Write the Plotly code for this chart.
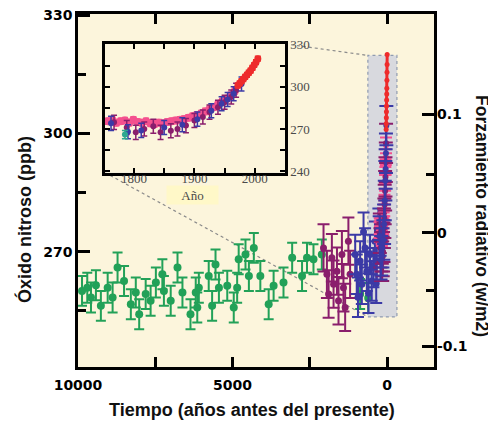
import plotly.graph_objects as go

# ---------------- data ----------------
# Main panel: years before present (BP) vs N2O (ppb)
green_bp = [9870, 9700, 9580, 9420, 9260, 9040, 8880, 8720, 8510, 8290, 8130, 8020,
            7810, 7650, 7480, 7270, 7220, 7000, 6780, 6620, 6360, 6190, 6140, 6090,
            5770, 5660, 5550, 5440, 5170, 4960, 4850, 4800, 4580, 4470, 4310, 4100,
            3830, 3670, 3350, 3070, 2750, 2590, 2380, 2110, 870, 610]
green_ppb = [260.1, 260.9, 258.4, 261.5, 256.3, 260.9, 258.4, 266.0, 262.6, 256.7, 259.7, 254.2,
             259.3, 257.6, 262.2, 264.3, 260.1, 257.6, 266.0, 259.7, 254.2, 259.7, 255.9, 260.9,
             263.9, 256.3, 266.8, 260.9, 261.4, 255.9, 260.9, 268.1, 269.3, 263.9, 271.0, 263.9,
             256.7, 261.4, 262.2, 268.5, 263.9, 268.5, 268.1, 269.3, 259.3, 258.3]
green_err = 3.8

purple_bp = [2055, 1945, 1890, 1785, 1730, 1620, 1570, 1460, 1410, 1355, 1250, 1195]
purple_ppb = [271.0, 264.3, 259.3, 268.5, 261.8, 265.1, 257.6, 269.3, 260.9, 255.9, 272.7, 264.3]
purple_err = 6.0

blue_bp = [1030, 980, 940, 870, 815, 760, 710, 655, 600, 550, 495, 440, 390, 350, 330, 280]
blue_ppb = [269.3, 264.3, 258.5, 267.7, 261.8, 275.0, 271.0, 265.1, 259.5, 269.3, 262.6, 266.0,
            272.7, 262.0, 267.7, 276.0]
blue_err = 5.0

# Inset panel: calendar year vs N2O (ppb)
ins_pink_year = [1757, 1764, 1771, 1778, 1785, 1792, 1799, 1806, 1813, 1820, 1827, 1834, 1841,
                 1848, 1855, 1862, 1869, 1876, 1883, 1890, 1897, 1904, 1911, 1918, 1925, 1932,
                 1939, 1946, 1953, 1960, 1967]
ins_pink_ppb = [275.5, 276.5, 274.5, 275.5, 276.0, 274.5, 276.5, 275.0, 274.5, 275.5, 274.0, 273.5,
                274.5, 274.0, 275.0, 275.5, 276.0, 276.5, 277.0, 278.0, 279.0, 280.0, 281.0, 282.5,
                284.0, 285.5, 287.5, 289.5, 291.5, 294.0, 297.0]
ins_pink_err = 2.0

ins_purple_year = [1767, 1788, 1803, 1817, 1832, 1844, 1861, 1872, 1886, 1900, 1914, 1925, 1939,
                   1950, 1961, 1969]
ins_purple_ppb = [274.7, 271.0, 267.6, 270.0, 272.0, 267.6, 268.8, 270.0, 272.4, 276.0, 278.5,
                  282.0, 285.5, 289.0, 292.7, 297.5]
ins_purple_err = 5.0

ins_blue_year = [1762, 1790, 1812, 1850, 1880, 1905, 1928, 1945, 1955, 1965, 1978]
ins_blue_ppb = [274.0, 268.0, 269.0, 271.0, 273.0, 277.0, 283.0, 288.0, 291.0, 295.0, 302.0]
ins_blue_err = 5.0

ins_teal_year = [1785]
ins_teal_ppb = [266.0]
ins_teal_err = 3.0

ins_red_year = [1972, 1975, 1978, 1981, 1984, 1987, 1990, 1993, 1996, 1999, 2002, 2005]
ins_red_ppb = [301.0, 302.5, 304.0, 305.5, 307.0, 308.5, 310.0, 311.5, 313.5, 315.5, 317.5, 320.0]
ins_red_err = 1.5

present_year = 2000  # year that defines "before present" in the main panel

# Axis ticks / labels
x_ticks = [10000, 5000, 0]
x_minor = [7500, 2500]
y_ticks = [330, 300, 270]
y_minor = [315, 285, 255]
forcing_tick_ppb = [304.8, 274.8, 246.1]
forcing_labels = ["0.1", "0", "-0.1"]
forcing_minor_ppb = [289.7, 260.2]
inset_x_ticks = [1800, 1900, 2000]
inset_x_minor = [1850, 1950]
inset_y_ticks = [240, 270, 300, 330]
inset_y_minor = [255, 285, 315]

# highlighted zoom window in the main panel (BP, ppb)
zoom_bp = [620, -320]
zoom_ppb = [253.5, 319.8]

# ---------------- styling ----------------
C_GREEN = "#22a158"
C_PURPLE = "#8a1e6c"
C_BLUE = "#3b3aa6"
C_PINK = "#f4508e"
C_RED = "#ee2b2b"
C_TEAL = "#2fa890"

x_range = [10000, -1520]
y_range = [240.8, 330.3]
ins_x_range = [1752, 2050]
ins_y_range = [239, 330.5]
ins_dom_x = [0.0758, 0.5815]
ins_dom_y = [0.5508, 0.9153]

# the page body adds an 8 px offset; the figure is sized so that the plot
# area lands at x 78..434, y 14..367 of the 496x425 window
PAGE_OFF = 8
PLOT_L, PLOT_R, PLOT_T, PLOT_B = 78, 434, 14, 367
FIG_W, FIG_H = 496 - PAGE_OFF, 425 - PAGE_OFF

fig = go.Figure()


def err_trace(x, y, err, color, size, xa, ya, capw, thick=2.0):
    fig.add_trace(go.Scatter(
        x=x, y=y, mode="markers", xaxis=xa, yaxis=ya,
        marker=dict(color=color, size=size, line=dict(width=0)),
        error_y=dict(type="constant", value=err, color=color, thickness=thick, width=capw),
        showlegend=False, hoverinfo="skip"))


def to_bp(years):
    return [present_year - yv for yv in years]


# main panel
err_trace(green_bp, green_ppb, green_err, C_GREEN, 8, "x", "y", 5)
err_trace(purple_bp, purple_ppb, purple_err, C_PURPLE, 7, "x", "y", 6)
err_trace(blue_bp, blue_ppb, blue_err, C_BLUE, 7, "x", "y", 6)
err_trace(to_bp(ins_pink_year), ins_pink_ppb, ins_pink_err, C_PINK, 6, "x", "y", 6)
err_trace(to_bp(ins_purple_year), ins_purple_ppb, ins_purple_err, C_PURPLE, 6, "x", "y", 7)
err_trace(to_bp(ins_blue_year), ins_blue_ppb, ins_blue_err, C_BLUE, 6, "x", "y", 7)
fig.add_trace(go.Scatter(x=to_bp(ins_red_year), y=ins_red_ppb, mode="lines+markers",
                         line=dict(color=C_RED, width=3), marker=dict(color=C_RED, size=5),
                         xaxis="x", yaxis="y", showlegend=False, hoverinfo="skip"))

# dummy trace for the forcing axis
fig.add_trace(go.Scatter(x=[None], y=[None], xaxis="x", yaxis="y2", showlegend=False,
                         hoverinfo="skip"))

# inset panel
err_trace(ins_pink_year, ins_pink_ppb, ins_pink_err, C_PINK, 8, "x3", "y3", 3)
err_trace(ins_purple_year, ins_purple_ppb, ins_purple_err, C_PURPLE, 6, "x3", "y3", 3, 1.5)
err_trace(ins_blue_year, ins_blue_ppb, ins_blue_err, C_BLUE, 6, "x3", "y3", 3, 1.5)
err_trace(ins_teal_year, ins_teal_ppb, ins_teal_err, C_TEAL, 6, "x3", "y3", 3, 1.5)
err_trace(ins_red_year, ins_red_ppb, ins_red_err, C_RED, 7, "x3", "y3", 3)

tick_font = dict(family="DejaVu Sans", size=14, color="black", weight="bold")
serif_font = dict(family="Liberation Serif", size=13, color="#4a4a4a")

fig.update_layout(
    width=FIG_W, height=FIG_H,
    margin=dict(l=PLOT_L - PAGE_OFF, r=496 - PLOT_R, t=PLOT_T - PAGE_OFF, b=425 - PLOT_B,
                autoexpand=False),
    paper_bgcolor="white",
    plot_bgcolor="#fcf5dc",
    showlegend=False,
    xaxis=dict(range=x_range, tickvals=x_ticks, ticktext=[str(v) for v in x_ticks],
               ticks="inside", ticklen=10, tickwidth=2.5, tickcolor="black",
               minor=dict(tickvals=x_minor, ticks="inside", ticklen=10, tickwidth=2.5,
                          tickcolor="black"),
               showline=True, linecolor="black", linewidth=2.5, mirror="ticks",
               showgrid=False, zeroline=False, tickfont=tick_font, ticklabelstandoff=3,
               ticklabeloverflow="allow"),
    yaxis=dict(range=y_range, tickvals=y_ticks, ticktext=[str(v) for v in y_ticks],
               ticks="inside", ticklen=12, tickwidth=2.5, tickcolor="black",
               minor=dict(tickvals=y_minor, ticks="inside", ticklen=8, tickwidth=2.5,
                          tickcolor="black"),
               showline=True, linecolor="black", linewidth=2.5, mirror=True,
               showgrid=False, zeroline=False, tickfont=tick_font, ticklabelstandoff=0,
               ticklabeloverflow="allow"),
    yaxis2=dict(range=y_range, overlaying="y", side="right", anchor="x",
                tickvals=forcing_tick_ppb, ticktext=forcing_labels,
                ticks="inside", ticklen=12, tickwidth=2.5, tickcolor="black",
                minor=dict(tickvals=forcing_minor_ppb, ticks="inside", ticklen=8,
                           tickwidth=2.5, tickcolor="black"),
                showline=False, showgrid=False, zeroline=False, tickfont=tick_font,
                ticklabelstandoff=2, ticklabeloverflow="allow"),
    xaxis3=dict(domain=ins_dom_x, anchor="y3", range=ins_x_range, tickvals=inset_x_ticks,
                ticktext=[str(v) for v in inset_x_ticks],
                ticks="inside", ticklen=5, tickwidth=2, tickcolor="black",
                minor=dict(tickvals=inset_x_minor, ticks="inside", ticklen=5, tickwidth=2,
                           tickcolor="black"),
                showline=True, linecolor="black", linewidth=2.5, mirror="ticks",
                showgrid=False, zeroline=False, tickfont=serif_font, ticklabelstandoff=-8,
                ticklabeloverflow="allow"),
    yaxis3=dict(domain=ins_dom_y, anchor="x3", range=ins_y_range, side="right",
                tickvals=inset_y_ticks, ticktext=[str(v) for v in inset_y_ticks],
                ticks="inside", ticklen=5, tickwidth=2, tickcolor="black",
                minor=dict(tickvals=inset_y_minor, ticks="inside", ticklen=5, tickwidth=2,
                           tickcolor="black"),
                showline=True, linecolor="black", linewidth=2.5, mirror="ticks",
                showgrid=False, zeroline=False, tickfont=serif_font, ticklabelstandoff=0,
                ticklabeloverflow="allow"),
)


def dom2data(f, rng):
    return rng[0] + f * (rng[1] - rng[0])


shapes = [
    # inset grey background
    dict(type="rect", xref="x3 domain", yref="y3 domain", x0=0, x1=1, y0=0, y1=1,
         fillcolor="#d9d9d9", line=dict(width=0), layer="below"),
    # highlighted window in main panel
    dict(type="rect", xref="x", yref="y", x0=zoom_bp[0], x1=zoom_bp[1],
         y0=zoom_ppb[0], y1=zoom_ppb[1], fillcolor="#d8d9de",
         line=dict(color="#8f9bb0", width=1.2, dash="dot"), layer="below"),
    # connector lines
    dict(type="line", xref="x", yref="y",
         x0=dom2data(ins_dom_x[1], x_range), y0=dom2data(ins_dom_y[1], y_range),
         x1=zoom_bp[0], y1=zoom_ppb[1],
         line=dict(color="#8a8a8a", width=1.2, dash="dot"), layer="below"),
    dict(type="line", xref="x", yref="y",
         x0=dom2data(ins_dom_x[0], x_range), y0=dom2data(ins_dom_y[0], y_range),
         x1=zoom_bp[0], y1=zoom_ppb[0],
         line=dict(color="#8a8a8a", width=1.2, dash="dot"), layer="below"),
]
fig.update_layout(shapes=shapes)


def px_x(px):
    return (px - PLOT_L) / (PLOT_R - PLOT_L)


def px_y(py):
    return (PLOT_B - py) / (PLOT_B - PLOT_T)


title_font = dict(family="Liberation Sans", size=18, color="#111", weight="bold")
annotations = [
    dict(text="Tiempo (años antes del presente)", xref="paper", yref="paper",
         x=px_x(252), y=px_y(410), xanchor="center", yanchor="middle",
         showarrow=False, font=title_font),
    dict(text="Óxido nitroso (ppb)", xref="paper", yref="paper",
         x=px_x(24), y=px_y(220), xanchor="center", yanchor="middle",
         textangle=-90, showarrow=False, font=title_font),
    dict(text="Forzamiento radiativo (w/m2)", xref="paper", yref="paper",
         x=px_x(482), y=px_y(216), xanchor="center", yanchor="middle",
         textangle=90, showarrow=False, font=dict(family="Liberation Sans", size=17.5,
                                                   color="#111", weight="bold")),
    dict(text="Año", xref="paper", yref="paper",
         x=px_x(192.5), y=px_y(195), xanchor="center", yanchor="middle",
         showarrow=False, font=dict(family="Liberation Serif", size=13, color="#4a4a4a"),
         bgcolor="#fff8c8", width=49, height=16),
]
fig.update_layout(annotations=annotations)

fig.write_html("out.html")
